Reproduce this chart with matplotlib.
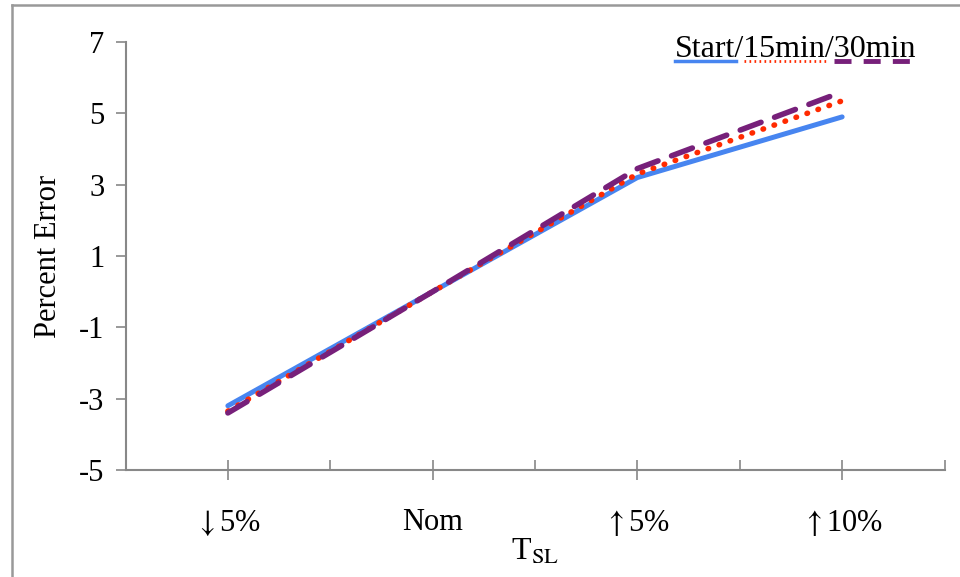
import matplotlib
matplotlib.use("Agg")
import matplotlib.pyplot as plt
from matplotlib.lines import Line2D
import numpy as np

plt.rcParams['font.family'] = ['Liberation Serif', 'DejaVu Serif']
plt.rcParams['mathtext.fontset'] = 'stix'
plt.rcParams['axes.unicode_minus'] = False

kategorien = [r'$\downarrow$5%', 'Nom', r'$\uparrow$5%', r'$\uparrow$10%']
start = [-3.2, 0.0, 3.2, 4.9]
min15 = [-3.35, 0.0, 3.3, 5.35]
min30 = [-3.4, 0.0, 3.45, 5.6]

GRAU = '#888888'
BLAU = '#4785F0'
ROT = '#FF2A00'
LILA = '#77207A'

fig = plt.figure(figsize=(9.6, 5.77), dpi=100)
ax = fig.add_axes([125.5 / 960, 1 - 470 / 577, 819 / 960, 428 / 577])

x = np.arange(len(kategorien))
ax.plot(x, start, color=BLAU, lw=3.6, solid_capstyle='round', zorder=2)
ax.plot(x, min15, color=ROT, lw=4.0, linestyle=(0, (0.1, 2.0)),
        dash_capstyle='round', zorder=3)
ax.plot(x, min30, color=LILA, lw=4.0, linestyle=(0, (4.0, 2.6)),
        dash_capstyle='round', zorder=4)

ax.set_xlim(-0.5, 3.5)
ax.set_ylim(-5, 7)
ax.set_yticks(np.arange(-5, 8, 2))
ax.set_xticks(x)
ax.set_xticklabels(kategorien)
ax.set_xticks(np.arange(-0.5, 3.6, 1.0), minor=True)

for s in ['top', 'right']:
    ax.spines[s].set_visible(False)
for s in ['left', 'bottom']:
    ax.spines[s].set_color(GRAU)
    ax.spines[s].set_linewidth(1.5)

ax.tick_params(axis='y', direction='out', length=7, width=1.2, color=GRAU,
               labelsize=22, pad=8)
ax.tick_params(axis='x', which='major', direction='inout', length=14, width=1.2,
               color=GRAU, labelsize=22, pad=20)
ax.tick_params(axis='x', which='minor', direction='in', length=7, width=1.2,
               color=GRAU)

ax.set_ylabel('Percent Error', fontsize=22, labelpad=12)
ax.set_xlabel(r'T$_{\mathrm{SL}}$', fontsize=23, labelpad=0)

# Legende im Excel-Stil: Text mit Linienmustern darunter
fig.text(675 / 960, 1 - 57 / 577, 'Start/15min/30min', fontsize=23,
         ha='left', va='baseline')
fig.add_artist(Line2D([675 / 960, 736 / 960], [1 - 61 / 577] * 2,
                      color=BLAU, lw=2.5, transform=fig.transFigure))
fig.add_artist(Line2D([744 / 960, 826 / 960], [1 - 61 / 577] * 2,
                      color=ROT, lw=2.0, linestyle=(0, (0.6, 1.2)),
                      transform=fig.transFigure))
fig.add_artist(Line2D([834 / 960, 915 / 960], [1 - 61 / 577] * 2,
                      color=LILA, lw=3.5, linestyle=(0, (3.5, 2.5)),
                      transform=fig.transFigure))

# Rahmen oben und links
fig.add_artist(Line2D([12 / 960, 1.0], [1 - 5 / 577] * 2, color='#999999',
                      lw=1.8, transform=fig.transFigure))
fig.add_artist(Line2D([12 / 960] * 2, [0.0, 1 - 5 / 577], color='#999999',
                      lw=1.8, transform=fig.transFigure))

fig.savefig('out.png', dpi=100)
